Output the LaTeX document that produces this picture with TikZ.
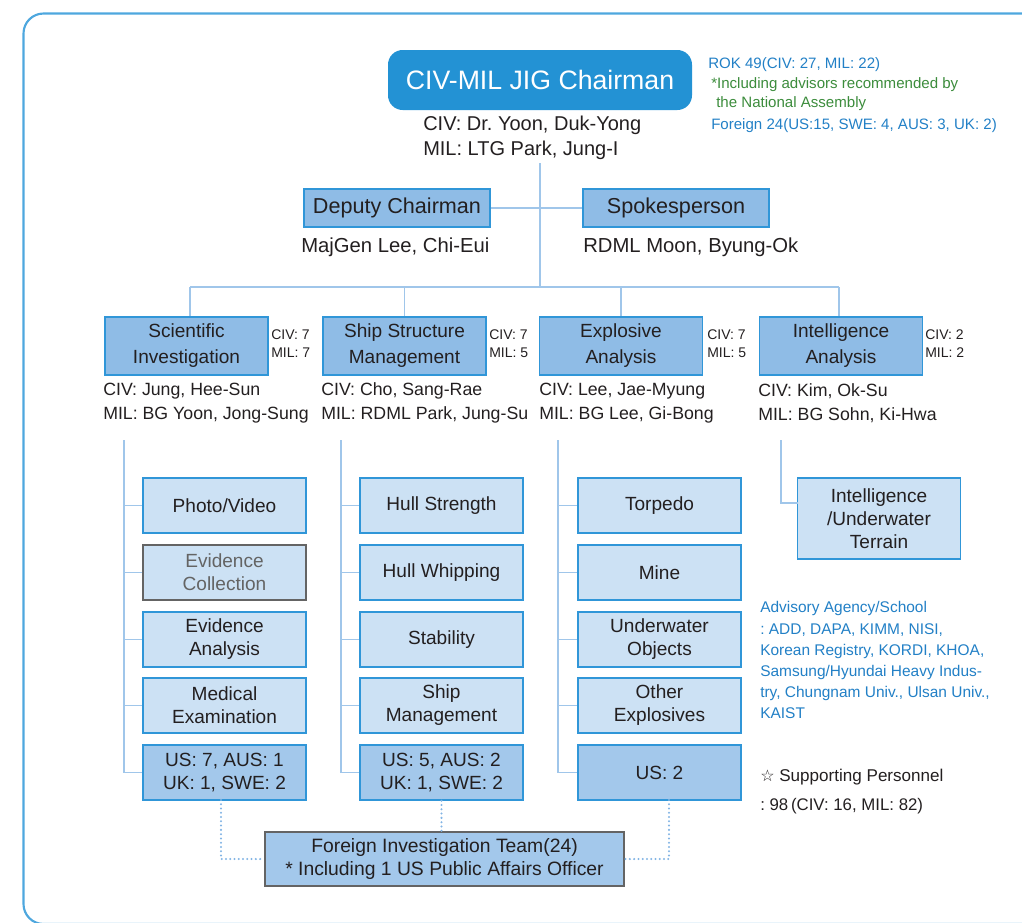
\documentclass[tikz,border=0pt]{standalone}
\usepackage{fontspec}
\setmainfont{Liberation Sans}
\newfontfamily\symfont{DejaVu Sans}
\frenchspacing
\definecolor{chairblue}{RGB}{35,146,212}
\definecolor{grpfill}{RGB}{143,188,230}
\definecolor{bordc}{RGB}{48,150,216}
\definecolor{subfill}{RGB}{204,225,244}
\definecolor{usfill}{RGB}{163,200,235}
\definecolor{linec}{RGB}{160,198,234}
\definecolor{dotc}{RGB}{130,180,228}
\definecolor{framec}{RGB}{78,167,222}
\definecolor{txt}{RGB}{35,31,32}
\definecolor{noteblue}{RGB}{34,128,198}
\definecolor{notegreen}{RGB}{60,140,60}
\definecolor{grayc}{RGB}{100,100,100}
\begin{document}
\frenchspacing
\begin{tikzpicture}[x=0.75pt,y=-0.75pt,
  box/.style={draw=bordc, line width=1.2pt, text=txt, align=center, inner sep=0pt},
  grp/.style={box, fill=grpfill, minimum width=122.25pt, minimum height=43.5pt, font=\fontsize{14.3}{19.5}\selectfont},
  hdr/.style={box, fill=grpfill, minimum width=139.5pt, minimum height=28.5pt, font=\fontsize{16.2}{19}\selectfont},
  sub/.style={box, fill=subfill, minimum width=122.25pt, minimum height=41.25pt, font=\fontsize{14.3}{17.25}\selectfont},
  usb/.style={sub, fill=usfill},
  graybox/.style={draw=grayc, text=grayc},
  conn/.style={draw=linec, line width=1.2pt},
  dots/.style={draw=dotc, line width=1.7pt, dash pattern=on 0pt off 3.2pt, line cap=round},
  plain/.style={inner sep=0pt, anchor=west, align=left, text=txt},
  names/.style={plain, font=\fontsize{13.3}{18}\selectfont},
  side/.style={plain, font=\fontsize{10.5}{13.5}\selectfont},
  note/.style={plain, font=\fontsize{11.3}{15}\selectfont},
]
\useasboundingbox (0,0) rectangle (1022,922);
\clip (0,0) rectangle (1022,922);
\draw[framec, line width=1.6pt, rounded corners=15pt] (23.5,13.5) rectangle (1060,924);

% chairman
\node[fill=chairblue, rounded corners=11pt, minimum width=228pt, minimum height=45pt, text=white, inner sep=0pt,
  font=\fontsize{20}{24}\selectfont] (chair) at (540,80) {CIV-MIL JIG Chairman};
\node[plain, font=\fontsize{15}{18.75}\selectfont] (chairn) at (423,137.5) {CIV: Dr. Yoon, Duk-Yong\\MIL: LTG Park, Jung-I};

\node[note, text=noteblue] (n1) at (708,65) {ROK 49(CIV: 27, MIL: 22)};
\node[note, text=notegreen] (n2) at (711,85) {*Including advisors recommended by};
\node[note, text=notegreen] (n3) at (716,104) {the National Assembly};
\node[note, text=noteblue] (n4) at (711,126) {Foreign 24(US:15, SWE: 4, AUS: 3, UK: 2)};

% deputy / spokesperson
\node[hdr] (dep) at (397,208) {Deputy Chairman};
\node[hdr] (spk) at (676,208) {Spokesperson};
\node[plain, font=\fontsize{15.2}{18}\selectfont] (depn) at (301,247) {MajGen Lee, Chi-Eui};
\node[plain, font=\fontsize{15.2}{18}\selectfont] (spkn) at (583,247) {RDML Moon, Byung-Ok};

\coordinate (top) at (540,163);
\coordinate (bar) at (540,287);
\coordinate (barL) at (190,287);
\coordinate (barR) at (839,287);
\draw[conn] (top) -- (bar);
\draw[conn] (dep) -- (spk);
\draw[conn] (barL) -- (barR);

% groups
\node[grp] (sci) at (186.5,346) {Scientific\\Investigation};
\node[grp] (ship) at (404.5,346) {Ship Structure\\Management};
\node[grp] (exp) at (621,346) {Explosive\\Analysis};
\node[grp] (intl) at (841,346) {Intelligence\\Analysis};
\draw[conn] (barL) -- (barL |- sci.north);
\draw[conn] (ship.north) -- (ship.north |- barL);
\draw[conn] (exp.north) -- (exp.north |- barL);
\draw[conn] (barR) -- (barR |- intl.north);

\node[side] (scic) at (271,344) {CIV: 7\\MIL: 7};
\node[side] (shipc) at (489,344) {CIV: 7\\MIL: 5};
\node[side] (expc) at (707,344) {CIV: 7\\MIL: 5};
\node[side] (intlc) at (925,344) {CIV: 2\\MIL: 2};

\node[names] (scin) at (103,403) {CIV: Jung, Hee-Sun\\MIL: BG Yoon, Jong-Sung};
\node[names] (shipn) at (321,403) {CIV: Cho, Sang-Rae\\MIL: RDML Park, Jung-Su};
\node[names] (expn) at (539,403) {CIV: Lee, Jae-Myung\\MIL: BG Lee, Gi-Bong};
\node[names] (intln) at (758,403) {CIV: Kim, Ok-Su\\MIL: BG Sohn, Ki-Hwa};

% scientific sub
\node[sub] (s1) at (224.5,505.5) {Photo/Video};
\node[sub, graybox] (s2) at (224.5,572.5) {Evidence\\Collection};
\node[sub] (s3) at (224.5,639.5) {Evidence\\Analysis};
\node[sub] (s4) at (224.5,705.5) {Medical\\Examination};
\node[usb] (s5) at (224.5,772.5) {US: 7, AUS: 1\\UK: 1, SWE: 2};
\coordinate (sv) at (124,440);
\foreach \n in {s1,s2,s3,s4,s5} \draw[conn] (sv) |- (\n.west);

% ship sub
\node[sub] (h1) at (441.5,505.5) {Hull Strength};
\node[sub] (h2) at (441.5,572.5) {Hull Whipping};
\node[sub] (h3) at (441.5,639.5) {Stability};
\node[sub] (h4) at (441.5,705.5) {Ship\\Management};
\node[usb] (h5) at (441.5,772.5) {US: 5, AUS: 2\\UK: 1, SWE: 2};
\coordinate (hv) at (341,440);
\foreach \n in {h1,h2,h3,h4,h5} \draw[conn] (hv) |- (\n.west);

% explosive sub
\node[sub] (e1) at (659.5,505.5) {Torpedo};
\node[sub] (e2) at (659.5,572.5) {Mine};
\node[sub] (e3) at (659.5,639.5) {Underwater\\Objects};
\node[sub] (e4) at (659.5,705.5) {Other\\Explosives};
\node[usb] (e5) at (659.5,772.5) {US: 2};
\coordinate (ev) at (558,440);
\foreach \n in {e1,e2,e3,e4,e5} \draw[conn] (ev) |- (\n.west);

% intelligence sub
\node[sub, minimum height=60.75pt] (i1) at (879,518.5) {Intelligence\\/Underwater\\Terrain};
\coordinate (iv) at (781,440);
\coordinate (ij) at (798,503);
\draw[conn] (iv) |- (ij);

% advisory & supporting
\node[plain, text=noteblue, anchor=north west, font=\fontsize{11.6}{15.8}\selectfont] (adv) at (760,601.5)
 {Advisory Agency/School\\: ADD, DAPA, KIMM, NISI,\\Korean Registry, KORDI, KHOA,\\Samsung/Hyundai Heavy Indus-\\try, Chungnam Univ., Ulsan Univ.,\\KAIST};
\node[plain, font=\fontsize{12.8}{15}\selectfont] (sup1) at (760,777) {{\symfont\fontsize{12}{15}\selectfont ☆} Supporting Personnel};
\node[plain, font=\fontsize{12.6}{15}\selectfont] (sup2) at (760,806) {: 98\,(CIV: 16, MIL: 82)};

% foreign team
\node[box, fill=usfill, graybox, text=txt, minimum width=269.25pt, minimum height=40.5pt,
  font=\fontsize{14.5}{17.25}\selectfont] (team) at (444.5,859) {Foreign Investigation Team(24)\\* Including 1 US Public Affairs Officer};
\coordinate (sdot) at (221,800);
\coordinate (edot) at (669,800);
\draw[dots] (sdot) |- (team.west);
\draw[dots] (h5.south) -- (h5.south |- team.north);
\draw[dots] (edot) |- (team.east);
\end{tikzpicture}
\end{document}
